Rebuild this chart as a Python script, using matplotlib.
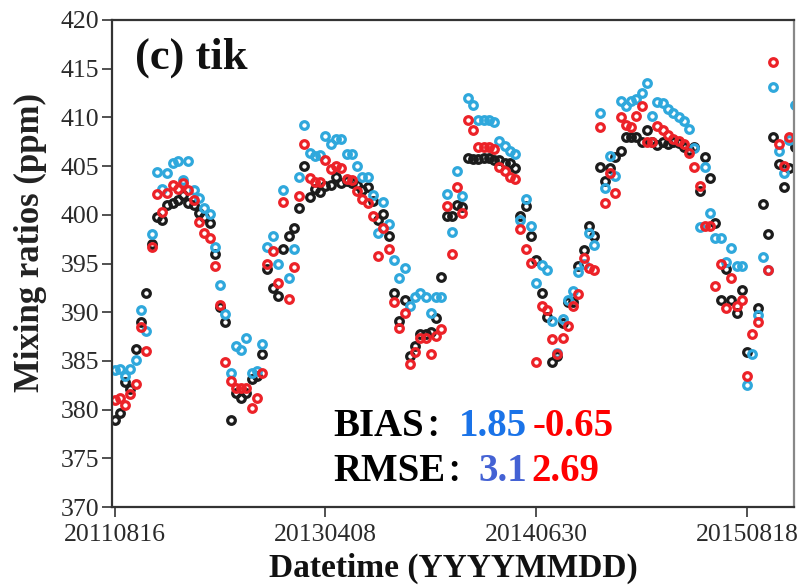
"""
(c) tik: CO2 mixing ratios, observation vs two model runs
"""

import numpy as np
import matplotlib.pyplot as plt

# 観測 (black), モデル1 (blue), モデル2 (red) -- sample index on x
obs = [378.9, 379.7, 382.8, 382.1, 386.2, 389.0, 392.0, 397.0, 399.8, 399.5,
       401.0, 401.2, 401.5, 402.0, 401.2, 401.0, 400.2, 399.8, 399.2, 396.0,
       390.5, 389.0, 378.9, 381.7, 381.2, 381.7, 383.1, 383.5, 385.7, 394.4,
       392.5, 391.7, 396.5, 397.8, 398.6, 400.7, 405.0, 401.8, 402.6, 402.3,
       403.0, 403.1, 403.9, 403.3, 403.5, 403.3, 403.1, 402.5, 402.9, 401.4,
       399.5, 400.1, 397.8, 392.0, 389.1, 391.3, 385.5, 386.5, 387.8, 387.8,
       388.0, 389.4, 393.6, 399.9, 399.9, 401.0, 400.8, 405.8, 405.7, 405.7,
       405.8, 405.8, 405.6, 405.6, 405.3, 405.3, 404.8, 399.9, 400.9, 397.8,
       395.4, 392.0, 389.5, 384.9, 385.5, 388.9, 391.0, 391.0, 394.7, 396.4,
       398.9, 397.8, 404.9, 403.5, 404.8, 405.9, 406.6, 408.0, 408.0, 408.0,
       407.5, 408.7, 407.5, 407.2, 407.5, 407.3, 407.5, 407.4, 407.0, 406.7,
       407.0, 402.4, 405.9, 403.8, 399.2, 391.3, 394.4, 391.3, 389.9, 392.3,
       385.9, np.nan, 390.4, 401.1, 398.0, 408.0, 405.2, 402.9, 404.8, 407.0]

model_blue = [384.1, 384.2, 383.4, 384.2, 385.1, 390.2, 388.1, 398.0, 404.4, 402.6,
              404.3, 405.3, 405.5, 403.6, 405.5, 402.5, 401.7, 400.7, 400.1, 396.7,
              392.8, 389.8, 383.8, 386.5, 386.1, 387.3, 383.8, 384.0, 386.7, 396.7,
              397.8, 395.0, 402.5, 393.5, 396.5, 403.9, 409.2, 406.3, 406.0, 406.1,
              408.1, 407.3, 407.8, 407.8, 406.2, 406.2, 405.0, 403.9, 403.9, 402.0,
              398.1, 401.3, 399.1, 395.4, 393.5, 394.5, 390.6, 391.6, 392.0, 391.6,
              389.9, 391.6, 391.6, 402.1, 398.2, 404.5, 401.9, 412.0, 411.3, 409.7,
              409.7, 409.7, 409.5, 407.6, 407.1, 406.6, 406.2, 399.5, 401.6, 398.8,
              393.0, 394.8, 394.3, 389.1, 385.8, 389.3, 391.3, 392.2, 394.1, 395.0,
              398.1, 396.9, 410.5, 402.8, 406.0, 404.0, 411.7, 411.2, 411.7, 411.9,
              412.5, 413.5, 410.1, 411.6, 411.5, 410.9, 410.5, 410.0, 409.6, 408.8,
              406.9, 398.7, 404.9, 400.2, 397.6, 397.6, 395.2, 396.6, 394.7, 394.7,
              382.5, 385.7, 389.7, 395.7, 394.3, 413.1, 406.5, 404.3, 407.7, 411.3]

model_red = [381.0, 381.2, 380.5, 381.6, 382.6, 388.5, 386.0, 396.7, 402.1, 400.3,
             402.2, 403.1, 402.6, 403.3, 402.5, 401.5, 399.3, 398.1, 397.6, 394.7,
             390.7, 384.9, 382.9, 382.2, 382.2, 382.2, 380.2, 381.2, 383.8, 395.0,
             396.3, 393.0, 401.3, 391.4, 394.6, 401.9, 407.3, 403.8, 403.4, 403.4,
             405.6, 404.7, 405.0, 404.8, 403.7, 403.6, 402.4, 401.6, 401.2, 399.9,
             395.8, 398.6, 396.5, 391.0, 388.4, 389.9, 384.7, 385.9, 387.4, 387.4,
             385.7, 387.6, 388.3, 400.9, 396.0, 402.9, 400.2, 409.7, 408.7, 407.0,
             407.0, 407.0, 406.8, 404.9, 404.5, 403.9, 403.7, 398.5, 396.5, 395.1,
             384.9, 390.6, 390.2, 387.2, 385.7, 387.3, 388.6, 390.6, 391.9, 395.6,
             394.5, 394.3, 409.0, 401.2, 404.3, 402.2, 410.0, 409.2, 409.0, 410.1,
             411.2, 407.5, 407.5, 409.1, 408.7, 408.2, 407.8, 407.6, 407.3, 406.3,
             404.9, 403.0, 398.9, 398.9, 392.7, 395.0, 390.4, 393.5, 390.6, 391.3,
             383.5, 387.8, 389.0, np.nan, 394.3, 415.7, 407.3, 405.0, 408.0, np.nan]

tick_idx = [0, 40, 80, 120]
tick_labels = ['20110816', '20130408', '20140630', '20150818']
y_ticks = list(range(370, 421, 5))

bias_vals = ['1.85', '-0.65']
rmse_vals = ['3.1', '2.69']

serif = ['Liberation Serif', 'Noto Sans CJK SC']

fig = plt.figure(figsize=(8.02, 5.86), dpi=100)
ax = fig.add_axes([112 / 802, 1 - 507 / 586, (794 - 112) / 802, (507 - 20) / 586])

x = np.arange(len(obs))
style = dict(linestyle='none', marker='o', mfc='none', ms=5.5, mew=2.3)
ax.plot(x, obs, mec='#1c1c1c', **style)
ax.plot(x, model_blue, mec='#2fa8dc', **style)
ax.plot(x, model_red, mec='#ec2228', **style)

ax.set_xlim(-0.5, 128.9)
ax.set_ylim(370, 420)
ax.set_yticks(y_ticks)
ax.set_xticks(tick_idx)
ax.set_xticklabels(tick_labels)

for lab in ax.get_xticklabels() + ax.get_yticklabels():
    lab.set_family(serif)
    lab.set_fontsize(18.5)
    lab.set_color('#2a2a2a')
ax.tick_params(direction='out', length=7, width=1.2, color='#333333', pad=2)
ax.tick_params(axis='x', pad=5)

for s in ax.spines.values():
    s.set_linewidth(1.6)
    s.set_color('#333333')
ax.spines['right'].set_color('#888888')

ax.set_ylabel('Mixing ratios (ppm)', family=serif, fontsize=25, fontweight='bold',
              color='#222222')
ax.yaxis.set_label_coords(-0.096, 0.544)
ax.set_xlabel('Datetime (YYYYMMDD)', family=serif, fontsize=24, fontweight='bold',
              color='#111111', labelpad=5)

ax.text(0.033, 0.965, '(c) tik', transform=ax.transAxes, family=serif,
        fontsize=32, fontweight='bold', va='top', color='#111111')

# BIAS / RMSE text
def ftxt(px, py, s, c, size=28):
    fig.text(px / 802, 1 - py / 586, s, family=serif, fontsize=size,
             fontweight='bold', color=c, va='baseline')

ftxt(333, 436, 'BIAS', 'black')
ftxt(425, 436, '：', 'black', size=22)
ftxt(459, 436, bias_vals[0], '#1a73e8')
ftxt(533, 436, bias_vals[1], '#ff0000')
ftxt(333, 481, 'RMSE', 'black')
ftxt(446, 481, '：', 'black', size=22)
ftxt(478, 481, rmse_vals[0], '#4462d4')
ftxt(531, 481, rmse_vals[1], '#ff0000')

fig.savefig('out.png', dpi=100)
plt.close(fig)
